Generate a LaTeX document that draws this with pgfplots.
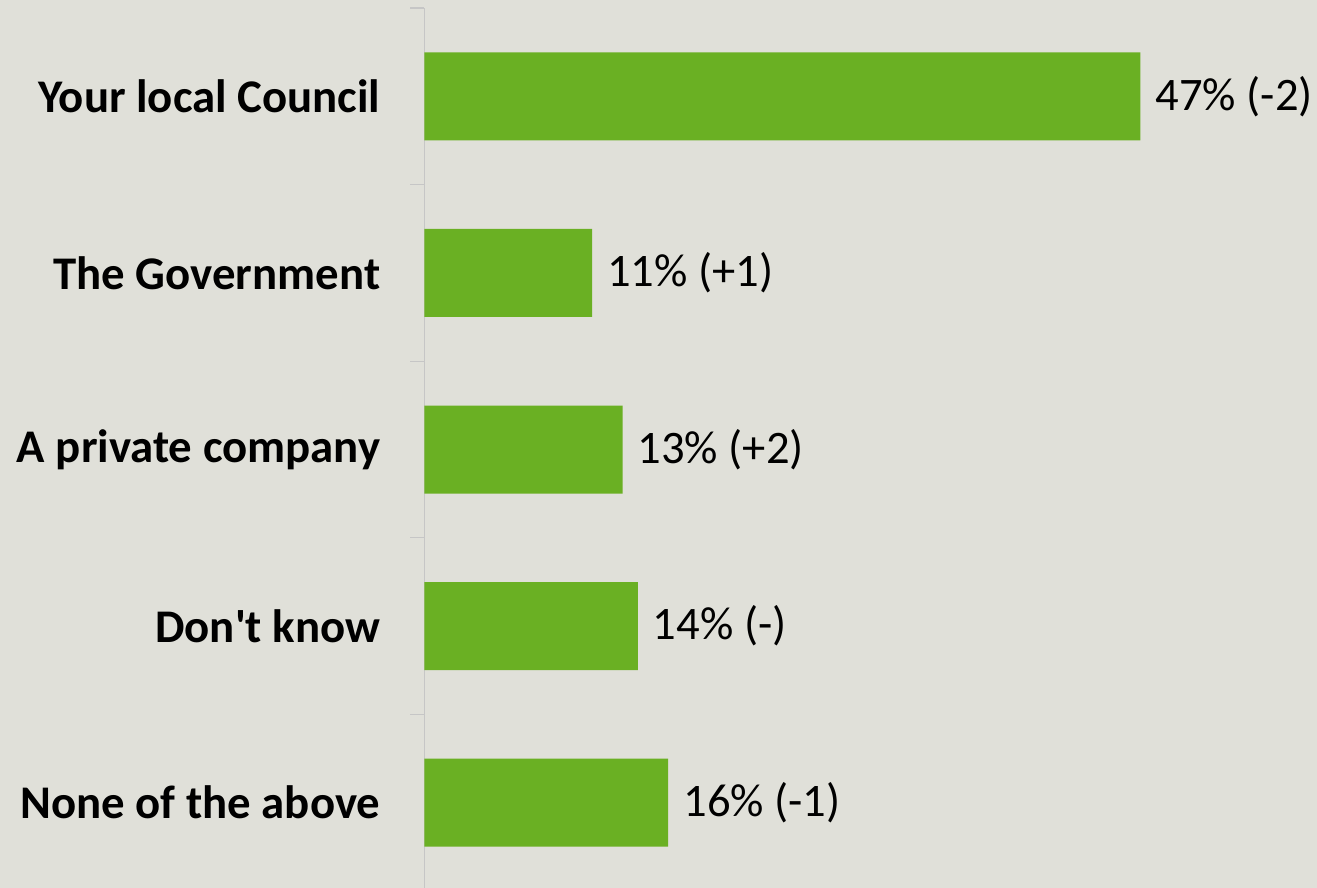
\documentclass[border=0pt]{standalone}
\usepackage{fontspec}
\setmainfont{Carlito}
\usepackage{pgfplots}
\pgfplotsset{compat=1.18}
\definecolor{bg}{HTML}{E0E0D9}
\definecolor{bargreen}{HTML}{6AB023}
\definecolor{axgray}{HTML}{C6C6C6}
\newcommand{\sq}{\XeTeXglyph\XeTeXcharglyph"27\relax}
\begin{document}
\begin{tikzpicture}
\path[use as bounding box, fill=bg] (-424.5bp,3bp) rectangle (892.5bp,891bp);
\begin{axis}[
  at={(0,0)}, anchor=south west,
  scale only axis,
  width=761.7bp, height=883bp,
  xbar, bar width=88bp,
  xmin=0, xmax=50, ymin=0.5, ymax=5.5,
  enlargelimits=false,
  y dir=reverse,
  axis x line=none,
  axis y line*=left,
  y axis line style={draw=axgray, line width=1.3bp},
  ytick={1,2,3,4,5},
  yticklabels={Your local Council, The Government, A private company, Don\sq t know, None of the above},
  major tick length=0pt,
  y tick label style={font=\fontsize{46.8bp}{56bp}\selectfont\bfseries, anchor=east, inner sep=0pt, xshift=-44bp},
  extra y ticks={0.5,1.5,2.5,3.5,4.5,5.5},
  extra y tick labels={},
  extra y tick style={major tick length=14bp, tick align=outside, tick style={draw=axgray, line width=1.3bp}},
  clip=false,
  point meta=explicit symbolic,
  nodes near coords,
  nodes near coords style={font=\fontsize{46.6bp}{56bp}\selectfont, anchor=west, inner sep=0pt, xshift=15bp, text=black},
]
\addplot[fill=bargreen, draw=none] coordinates {
  (47,1) [47\% (-2)]
  (11,2) [11\% (+1)]
  (13,3) [13\% (+2)]
  (14,4) [14\% (-)]
  (16,5) [16\% (-1)]
};
\end{axis}
\end{tikzpicture}
\end{document}
